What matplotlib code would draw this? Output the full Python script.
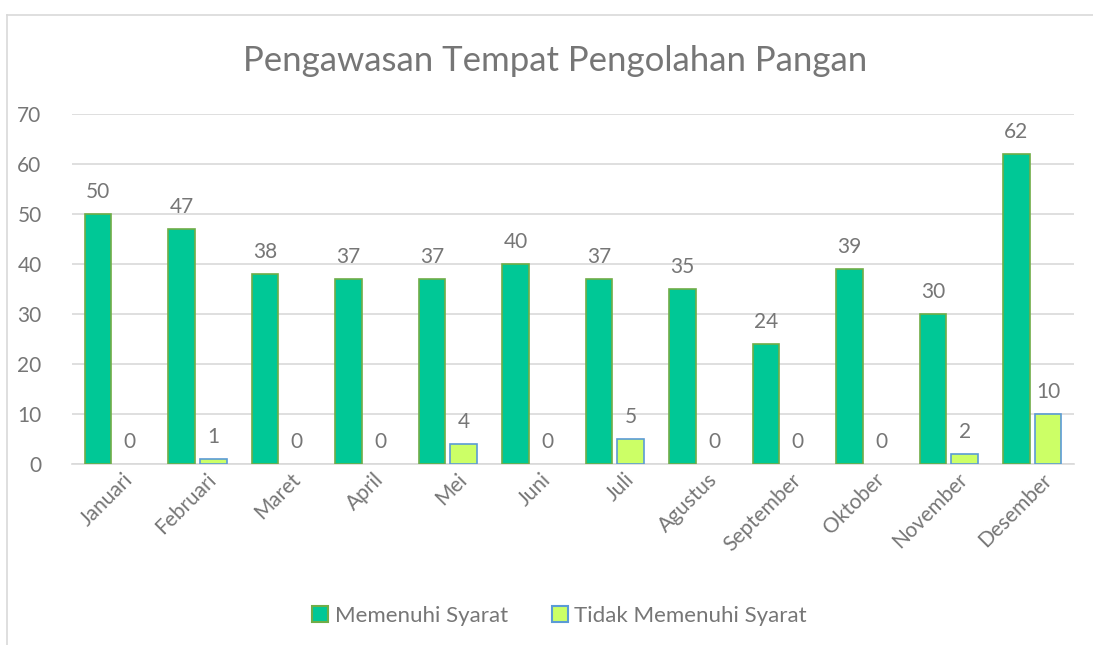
import matplotlib.pyplot as plt
import matplotlib.transforms as mtrans
import numpy as np
from matplotlib.lines import Line2D
from matplotlib.patches import Patch

# data
bulan = ['Januari', 'Februari', 'Maret', 'April', 'Mei', 'Juni', 'Juli',
         'Agustus', 'September', 'Oktober', 'November', 'Desember']
memenuhi = [50, 47, 38, 37, 37, 40, 37, 35, 24, 39, 30, 62]
tidak_memenuhi = [0, 1, 0, 0, 4, 0, 5, 0, 0, 0, 2, 10]

plt.rcParams['font.family'] = ['Lato', 'DejaVu Sans']
txt = '#767676'
hijau, hijau_tepi = '#00C896', '#70AD47'
muda, muda_tepi = '#CCFF66', '#5B9BD5'

fig = plt.figure(figsize=(10.93, 6.45), dpi=100)
ax = fig.add_axes([0.066, 0.2806, 0.9166, 0.5426])

x = np.arange(len(bulan))
w = 0.32
b1 = ax.bar(x - 0.19, memenuhi, w, color=hijau, edgecolor=hijau_tepi,
            linewidth=1.2, zorder=3)
b2 = ax.bar(x + 0.19, tidak_memenuhi, w, color=muda, edgecolor=muda_tepi,
            linewidth=1.2, zorder=3)

for bars, vals in [(b1, memenuhi), (b2, tidak_memenuhi)]:
    for r, v in zip(bars, vals):
        if v == 0:
            r.set_visible(False)
        ax.annotate(str(v), (r.get_x() + r.get_width() / 2, v),
                    xytext=(0, 9), textcoords='offset points',
                    ha='center', va='bottom', fontsize=15, color=txt)

ax.set_xlim(-0.5, len(bulan) - 0.5)
ax.set_ylim(0, 70)
ax.set_yticks(range(0, 71, 10))
ax.yaxis.grid(True, color='#D9D9D9', linewidth=1.2, zorder=0)
ax.set_axisbelow(True)
for s in ['top', 'right', 'left']:
    ax.spines[s].set_visible(False)
ax.spines['bottom'].set_color('#D9D9D9')
ax.spines['bottom'].set_linewidth(1.2)
ax.tick_params(axis='both', length=0, labelsize=15, labelcolor=txt)
ax.tick_params(axis='y', pad=22)
ax.tick_params(axis='x', pad=4)
ax.set_xticks(x)
ax.set_xticklabels(bulan, rotation=45, ha='right', rotation_mode='anchor')
geser = mtrans.ScaledTranslation(9 / 100, 0, fig.dpi_scale_trans)
for lbl in ax.get_xticklabels():
    lbl.set_transform(lbl.get_transform() + geser)

fig.text(0.508, 0.905, 'Pengawasan Tempat Pengolahan Pangan', ha='center',
         va='center', fontsize=25, color=txt)

handles = [Patch(facecolor=hijau, edgecolor=hijau_tepi, linewidth=1.5, label='Memenuhi Syarat'),
           Patch(facecolor=muda, edgecolor=muda_tepi, linewidth=1.5, label='Tidak Memenuhi Syarat')]
leg = fig.legend(handles=handles, loc='center', bbox_to_anchor=(0.512, 0.045),
                 ncol=2, frameon=False, fontsize=16, handlelength=0.7,
                 handleheight=0.7, handletextpad=0.3, columnspacing=2.0)
for t in leg.get_texts():
    t.set_color(txt)

# chart border (left and top visible)
fig.add_artist(Line2D([7 / 1093, 7 / 1093], [0, 1 - 15 / 645],
                      transform=fig.transFigure, color='#D9D9D9', linewidth=1.2))
fig.add_artist(Line2D([7 / 1093, 1], [1 - 15 / 645, 1 - 15 / 645],
                      transform=fig.transFigure, color='#D9D9D9', linewidth=1.2))

fig.savefig('out.png', dpi=100)
